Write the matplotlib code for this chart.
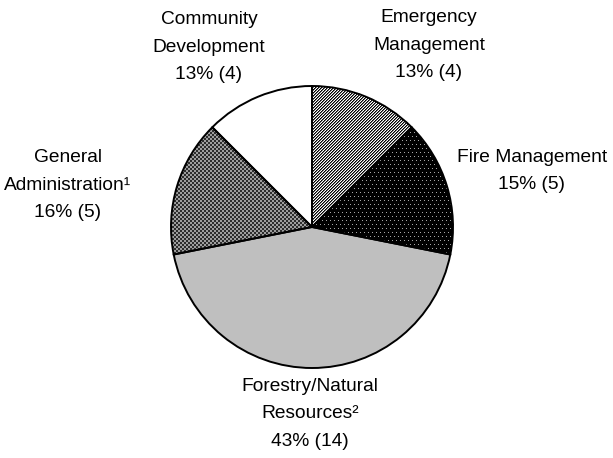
import numpy as np
import matplotlib
matplotlib.use('Agg')
import matplotlib.pyplot as plt

plt.rcParams['font.family'] = 'Liberation Sans'

# Programs by category, clockwise from 12 o'clock
names = ['Emergency\nManagement', 'Fire Management', 'Forestry/Natural\nResources\u00b2',
         'General\nAdministration\u00b9', 'Community\nDevelopment']
counts = [4, 5, 14, 5, 4]
percents = [13, 15, 43, 16, 13]

W, H = 613, 458
fig = plt.figure(figsize=(W / 100, H / 100), dpi=100)
ax = fig.add_axes([0, 0, 1, 1])

cx, cy, r = 312, H - 227, 141
wedges, _ = ax.pie(counts, startangle=90, counterclock=False, center=(cx, cy), radius=r,
                   wedgeprops=dict(facecolor='none', edgecolor='black', linewidth=1.4, zorder=2))

# pixel fill patterns, one per slice
yy, xx = np.mgrid[0:H, 0:W]


def solid(v):
    return np.full((H, W), v, dtype=float)


diag = np.where((xx + yy) % 3 == 0, 0.0, 1.0)
diag[(xx + yy) % 3 == 1] = 0.45
dots = np.zeros((H, W))
dots[(yy % 4 == 0) & ((xx + 2 * ((yy // 4) % 2)) % 4 == 0)] = 0.65
checks = np.where(((xx // 2) + (yy // 2)) % 2 == 0, 0.62, 0.18)
patterns = [diag, dots, solid(0.75), checks, solid(1.0)]

for w, pat in zip(wedges, patterns):
    rgb = np.dstack([pat, pat, pat])
    im = ax.imshow(rgb, extent=(0, W, 0, H), origin='upper', interpolation='nearest', zorder=1)
    im.set_clip_path(w)

# label positions (x, y from top)
label_xy = [(429, 45), (532, 171), (310, 414), (68, 185), (209, 47)]
for name, n, pct, (lx, ly) in zip(names, counts, percents, label_xy):
    ax.text(lx, H - ly, f'{name}\n{pct}% ({n})', ha='center', va='center',
            multialignment='center', fontsize=13.8, linespacing=1.8)

ax.set_xlim(0, W)
ax.set_ylim(0, H)
ax.set_aspect('auto')
ax.axis('off')

fig.savefig('out.png', dpi=100)
